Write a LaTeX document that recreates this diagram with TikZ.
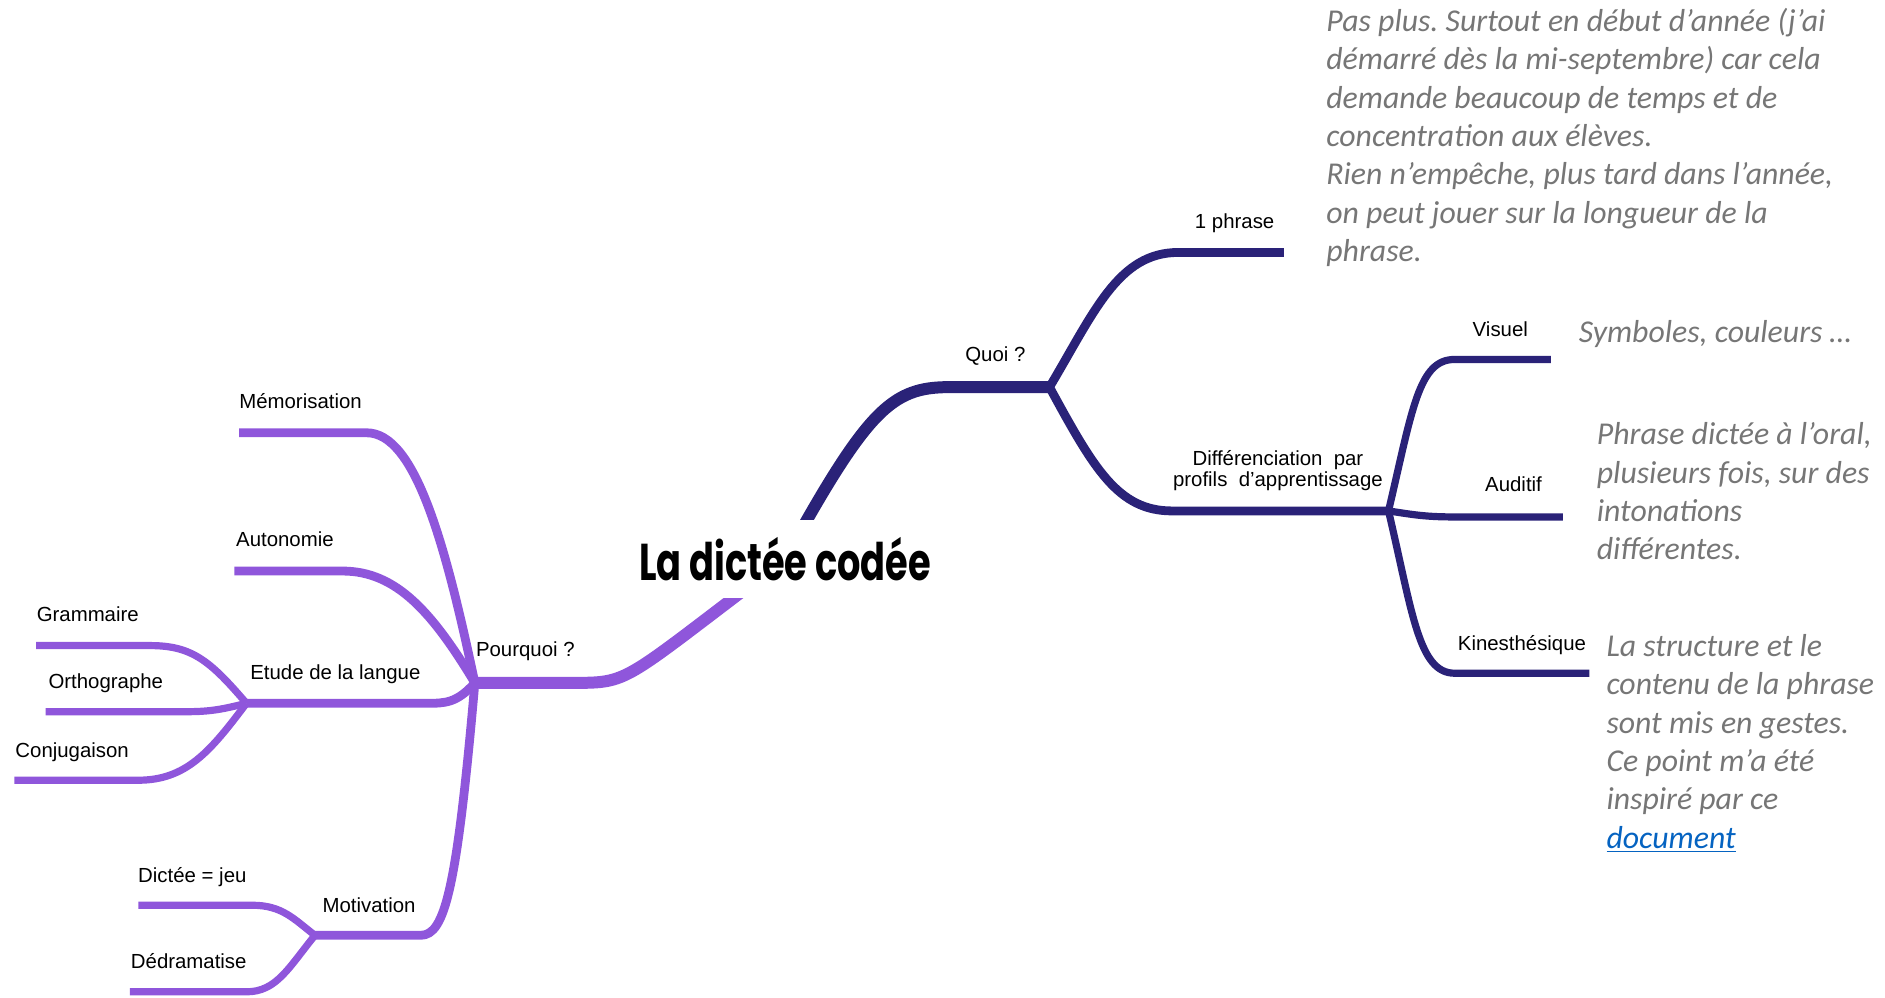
\documentclass[tikz,border=0pt]{standalone}
\usepackage{fontspec}
\usepackage{graphicx}
\setmainfont{Liberation Sans}
\newfontfamily\grayfont{Carlito}
\newfontfamily\titlefont{Poppins}
\usetikzlibrary{backgrounds}
\definecolor{navyc}{RGB}{42,34,120}
\definecolor{purplec}{RGB}{143,86,219}
\definecolor{grayc}{RGB}{118,118,118}
\definecolor{linkc}{RGB}{5,99,193}
\frenchspacing
\tikzset{
  navyline/.style={draw=navyc, line join=round},
  purpline/.style={draw=purplec, line join=round},
  lvlone/.style={line width=6pt},
  lvltwo/.style={line width=4.4pt},
  lvlthree/.style={line width=3.6pt},
  lbl/.style={anchor=base, inner sep=0pt, font=\fontsize{10.2pt}{12pt}\selectfont, text=black},
  note/.style={anchor=base west, inner sep=0pt, text=grayc, font=\grayfont\itshape\fontsize{15.9pt}{19.2pt}\selectfont},
}
\newcommand{\noteblock}[1]{\vtop{\baselineskip=19.2pt\lineskiplimit=-100pt #1}}
\begin{document}
\begin{tikzpicture}[x=0.6013pt,y=-0.6013pt]
\useasboundingbox (0,0) rectangle (1568,830);

% title
\node[fill=white, minimum width=162pt, minimum height=39pt, inner sep=0pt] (title) at (653,465)
  {\resizebox{146pt}{21.6pt}{\titlefont\bfseries La dictée codée}};

% hubs and ends
\coordinate (quoiH) at (873,322);
\coordinate (diffH) at (1155,425);
\coordinate (pourH) at (395,568);
\coordinate (etudeH) at (205,585);
\coordinate (motivH) at (262,778);
\coordinate (phraseE) at (1068,210);
\coordinate (visuelE) at (1290,299);
\coordinate (auditifE) at (1300,430);
\coordinate (kinesE) at (1322,560);
\coordinate (memoE) at (199,360);
\coordinate (autoE) at (195,475);
\coordinate (gramE) at (30,537);
\coordinate (orthoE) at (38,592);
\coordinate (conjE) at (12,649);
\coordinate (jeuE) at (115,753);
\coordinate (dedraE) at (108,825);

\begin{scope}[on background layer]
% navy side
\draw[navyline,lvlone] (title.center) .. controls (722,340) and (742,322) .. (790,322) -- (quoiH);
\draw[navyline,lvltwo] (quoiH) .. controls (910,260) and (930,210) .. (980,210) -- (phraseE);
\draw[navyline,lvltwo] (quoiH) .. controls (910,390) and (930,425) .. (975,425) -- (diffH);
\draw[navyline,lvlthree] (diffH) .. controls (1175,340) and (1180,299) .. (1210,299) -- (visuelE);
\draw[navyline,lvlthree] (diffH) .. controls (1175,428) and (1185,430) .. (1210,430) -- (auditifE);
\draw[navyline,lvlthree] (diffH) .. controls (1175,510) and (1180,560) .. (1210,560) -- (kinesE);
% purple side
\draw[purpline,lvlone] (title.center) .. controls (520,565) and (525,568) .. (480,568) -- (pourH);
\draw[purpline,lvltwo] (pourH) .. controls (370,450) and (345,360) .. (305,360) -- (memoE);
\draw[purpline,lvltwo] (pourH) .. controls (360,510) and (330,475) .. (285,475) -- (autoE);
\draw[purpline,lvltwo] (pourH) .. controls (380,585) and (370,585) .. (355,585) -- (etudeH);
\draw[purpline,lvlthree] (etudeH) .. controls (175,550) and (160,537) .. (125,537) -- (gramE);
\draw[purpline,lvlthree] (etudeH) .. controls (185,590) and (175,592) .. (155,592) -- (orthoE);
\draw[purpline,lvlthree] (etudeH) .. controls (175,625) and (155,649) .. (115,649) -- (conjE);
\draw[purpline,lvltwo] (pourH) .. controls (380,740) and (370,778) .. (350,778) -- (motivH);
\draw[purpline,lvlthree] (motivH) .. controls (245,765) and (235,753) .. (210,753) -- (jeuE);
\draw[purpline,lvlthree] (motivH) .. controls (240,805) and (230,825) .. (205,825) -- (dedraE);
\end{scope}

% labels
\node[lbl] (quoi) at (828,301) {Quoi ?};
\node[lbl] (phrase) at (1027,190) {1 phrase};
\node[lbl, align=center] (diff) at (1063,405) {Différenciation\ \ par\\[-1.5pt]profils\ \ d'apprentissage};
\node[lbl] (visuel) at (1248,280) {Visuel};
\node[lbl] (auditif) at (1259,409) {Auditif};
\node[lbl] (kines) at (1266,541) {Kinesthésique};
\node[lbl] (pourquoi) at (437,546) {Pourquoi ?};
\node[lbl] (memo) at (250,340) {Mémorisation};
\node[lbl] (auto) at (237,455) {Autonomie};
\node[lbl] (etude) at (279,565) {Etude de la langue};
\node[lbl] (gram) at (73,517) {Grammaire};
\node[lbl] (ortho) at (88,573) {Orthographe};
\node[lbl] (conj) at (60,630) {Conjugaison};
\node[lbl] (motiv) at (307,759) {Motivation};
\node[lbl] (jeu) at (160,734) {Dictée = jeu};
\node[lbl] (dedra) at (157,806) {Dédramatise};

% notes
\node[note] (noteA) at (1103,26) {\noteblock{%
\hbox{Pas plus. Surtout en début d’année (j’ai}
\hbox{démarré dès la mi-septembre) car cela}
\hbox{demande beaucoup de temps et de}
\hbox{concentration aux élèves.}
\hbox{Rien n’empêche, plus tard dans l’année,}
\hbox{on peut jouer sur la longueur de la}
\hbox{phrase.}}};
\node[note] (noteB) at (1313,285) {Symboles, couleurs …};
\node[note] (noteC) at (1328,370) {\noteblock{%
\hbox{Phrase dictée à l’oral,}
\hbox{plusieurs fois, sur des}
\hbox{intonations}
\hbox{différentes.}}};
\node[note] (noteD) at (1336,546) {\noteblock{%
\hbox{La structure et le}
\hbox{contenu de la phrase}
\hbox{sont mis en gestes.}
\hbox{Ce point m’a été}
\hbox{inspiré par ce}
\hbox{\textcolor{linkc}{\underline{document}}}}};
\end{tikzpicture}
\end{document}
